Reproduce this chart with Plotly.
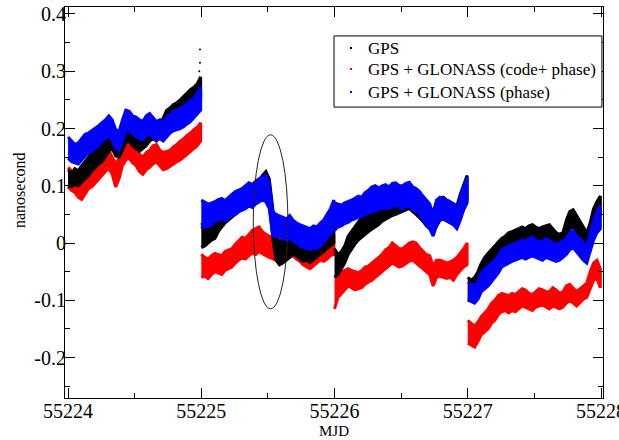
import plotly.graph_objects as go

# ---- sample grid: 4 daily segments, 40 samples per day ----
day_starts = [55224, 55225, 55226, 55227]
samples_per_day = 40
day_span = 0.995

# ---- GPS (black): lower / upper envelope of the scatter band ----
gps_lo = [
    0.100,0.098,0.102,0.100,0.106,0.112,0.118,0.126,0.132,0.138,0.142,0.150,0.160,0.165,0.152,0.150,0.162,0.176,0.178,0.170,
    0.165,0.160,0.165,0.170,0.178,0.182,0.178,0.185,0.195,0.200,0.205,0.212,0.215,0.220,0.225,0.232,0.238,0.240,0.245,0.250,
    -0.008,-0.005,0.000,0.005,0.008,0.020,0.028,0.035,0.040,0.045,0.050,0.055,0.058,0.062,0.065,0.070,0.072,0.075,0.080,0.082,
    0.070,0.010,-0.030,-0.038,-0.035,-0.030,-0.025,-0.020,-0.022,-0.028,-0.032,-0.030,-0.034,-0.030,-0.025,-0.020,-0.015,-0.010,-0.005,0.000,
    -0.060,-0.055,-0.045,-0.035,-0.020,-0.010,-0.002,0.005,0.010,0.015,0.020,0.025,0.028,0.032,0.038,0.042,0.045,0.048,0.050,0.052,
    0.055,0.058,0.060,0.055,0.050,0.045,0.038,0.030,0.025,0.018,0.030,0.040,0.042,0.038,0.035,0.032,0.030,0.045,0.060,0.075,
    -0.098,-0.100,-0.095,-0.088,-0.075,-0.065,-0.058,-0.050,-0.040,-0.032,-0.025,-0.020,-0.015,-0.012,-0.010,-0.008,-0.005,-0.008,-0.005,-0.002,
    -0.005,-0.008,-0.005,-0.002,0.000,-0.005,-0.010,-0.012,-0.008,0.010,0.025,0.028,0.020,0.010,0.000,-0.008,0.005,0.025,0.040,0.050,
]
gps_hi = [
    0.128,0.122,0.130,0.126,0.135,0.142,0.150,0.158,0.166,0.170,0.176,0.184,0.192,0.200,0.182,0.178,0.195,0.212,0.210,0.198,
    0.192,0.188,0.190,0.198,0.205,0.210,0.205,0.212,0.218,0.232,0.236,0.242,0.245,0.250,0.256,0.262,0.268,0.272,0.278,0.290,
    0.035,0.030,0.038,0.040,0.045,0.055,0.062,0.068,0.075,0.078,0.082,0.088,0.092,0.095,0.098,0.102,0.105,0.110,0.118,0.125,
    0.112,0.060,0.010,0.002,0.005,0.008,0.012,0.015,0.012,0.008,0.005,0.005,0.002,0.006,0.010,0.015,0.020,0.025,0.030,0.040,
    -0.010,-0.020,-0.015,-0.005,0.012,0.020,0.028,0.035,0.045,0.050,0.055,0.060,0.065,0.068,0.072,0.078,0.080,0.082,0.085,0.088,
    0.090,0.095,0.098,0.092,0.088,0.080,0.072,0.068,0.062,0.055,0.070,0.078,0.080,0.075,0.072,0.068,0.065,0.085,0.100,0.118,
    -0.060,-0.065,-0.060,-0.050,-0.035,-0.025,-0.018,-0.012,-0.005,0.002,0.008,0.012,0.018,0.020,0.022,0.025,0.028,0.025,0.030,0.032,
    0.028,0.025,0.028,0.030,0.032,0.025,0.018,0.015,0.018,0.040,0.055,0.058,0.048,0.038,0.028,0.018,0.035,0.060,0.072,0.082,
]
gps_out_x = [55224.99, 55224.99, 55224.985]
gps_out_y = [0.338, 0.315, 0.300]

# ---- GPS + GLONASS (code+ phase) (red) ----
cp_lo = [
    0.098,0.092,0.088,0.080,0.076,0.085,0.095,0.098,0.105,0.112,0.118,0.125,0.130,0.120,0.098,0.112,0.135,0.145,0.148,0.140,
    0.135,0.125,0.120,0.128,0.132,0.138,0.142,0.135,0.128,0.130,0.133,0.138,0.142,0.145,0.150,0.156,0.160,0.165,0.170,0.178,
    -0.060,-0.058,-0.062,-0.055,-0.050,-0.052,-0.055,-0.048,-0.045,-0.042,-0.035,-0.030,-0.025,-0.028,-0.022,-0.018,-0.020,-0.015,-0.018,-0.022,
    -0.025,-0.028,-0.030,-0.025,-0.028,-0.030,-0.025,-0.022,-0.028,-0.032,-0.038,-0.042,-0.045,-0.040,-0.035,-0.030,-0.032,-0.028,-0.022,-0.020,
    -0.115,-0.095,-0.088,-0.082,-0.075,-0.078,-0.082,-0.080,-0.078,-0.072,-0.068,-0.065,-0.060,-0.055,-0.050,-0.045,-0.040,-0.035,-0.038,-0.042,
    -0.040,-0.036,-0.032,-0.030,-0.035,-0.040,-0.045,-0.050,-0.055,-0.075,-0.060,-0.058,-0.060,-0.062,-0.060,-0.065,-0.055,-0.048,-0.042,-0.038,
    -0.175,-0.178,-0.182,-0.172,-0.160,-0.155,-0.150,-0.140,-0.135,-0.125,-0.120,-0.118,-0.122,-0.118,-0.120,-0.115,-0.110,-0.112,-0.115,-0.118,
    -0.112,-0.110,-0.108,-0.112,-0.115,-0.110,-0.112,-0.115,-0.112,-0.105,-0.100,-0.105,-0.110,-0.105,-0.098,-0.095,-0.080,-0.065,-0.062,-0.078,
]
cp_hi = [
    0.132,0.125,0.120,0.115,0.110,0.118,0.122,0.128,0.135,0.145,0.150,0.158,0.162,0.150,0.138,0.148,0.168,0.178,0.182,0.172,
    0.165,0.155,0.150,0.158,0.162,0.170,0.172,0.162,0.158,0.160,0.162,0.168,0.172,0.178,0.182,0.188,0.192,0.198,0.202,0.210,
    -0.020,-0.025,-0.028,-0.022,-0.018,-0.020,-0.022,-0.015,-0.012,-0.010,-0.002,0.005,0.010,0.008,0.015,0.022,0.025,0.028,0.020,0.015,
    0.012,0.010,0.008,0.012,0.010,0.006,0.012,0.015,0.010,0.005,0.000,-0.005,-0.008,-0.005,0.000,0.002,0.005,0.008,0.012,0.015,
    -0.060,-0.055,-0.050,-0.048,-0.045,-0.048,-0.050,-0.052,-0.048,-0.042,-0.040,-0.035,-0.030,-0.025,-0.020,-0.012,-0.008,0.000,-0.005,-0.010,
    -0.010,-0.005,0.000,0.002,0.000,-0.008,-0.015,-0.020,-0.022,-0.040,-0.030,-0.030,-0.032,-0.035,-0.033,-0.030,-0.025,-0.018,-0.010,0.000,
    -0.135,-0.140,-0.145,-0.138,-0.128,-0.122,-0.115,-0.105,-0.100,-0.092,-0.088,-0.090,-0.092,-0.088,-0.090,-0.085,-0.080,-0.082,-0.088,-0.090,
    -0.085,-0.080,-0.082,-0.085,-0.085,-0.078,-0.082,-0.088,-0.085,-0.075,-0.072,-0.078,-0.085,-0.080,-0.075,-0.070,-0.050,-0.035,-0.030,-0.045,
]

# ---- GPS + GLONASS (phase) (blue) ----
ph_lo = [
    0.148,0.142,0.140,0.138,0.145,0.152,0.158,0.160,0.165,0.170,0.178,0.182,0.186,0.180,0.165,0.162,0.178,0.195,0.198,0.190,
    0.186,0.182,0.180,0.188,0.192,0.185,0.180,0.182,0.178,0.185,0.192,0.196,0.198,0.200,0.203,0.208,0.212,0.218,0.225,0.232,
    0.025,0.030,0.028,0.032,0.038,0.040,0.042,0.038,0.045,0.048,0.050,0.055,0.058,0.060,0.065,0.062,0.068,0.072,0.075,0.072,
    0.060,0.015,0.010,0.012,0.008,0.005,0.008,0.004,0.000,-0.005,-0.008,-0.010,-0.012,-0.008,-0.010,-0.005,0.000,0.008,0.015,0.025,
    0.022,0.028,0.030,0.034,0.036,0.040,0.042,0.045,0.046,0.050,0.052,0.055,0.056,0.058,0.060,0.062,0.060,0.064,0.066,0.062,
    0.060,0.064,0.066,0.058,0.055,0.050,0.042,0.032,0.025,0.012,0.030,0.040,0.042,0.038,0.035,0.032,0.025,0.040,0.058,0.070,
    -0.100,-0.102,-0.105,-0.098,-0.085,-0.080,-0.075,-0.068,-0.060,-0.052,-0.042,-0.038,-0.035,-0.032,-0.030,-0.028,-0.025,-0.028,-0.025,-0.022,
    -0.025,-0.028,-0.030,-0.025,-0.028,-0.030,-0.032,-0.030,-0.025,-0.020,-0.012,-0.008,-0.015,-0.022,-0.030,-0.035,-0.015,0.005,0.018,0.025,
]
ph_hi = [
    0.185,0.178,0.172,0.175,0.182,0.190,0.192,0.196,0.200,0.205,0.210,0.215,0.222,0.215,0.198,0.195,0.215,0.232,0.230,0.222,
    0.220,0.215,0.212,0.222,0.226,0.218,0.212,0.215,0.210,0.220,0.225,0.230,0.232,0.236,0.238,0.245,0.250,0.252,0.262,0.272,
    0.075,0.072,0.068,0.070,0.072,0.076,0.078,0.074,0.080,0.085,0.090,0.092,0.095,0.100,0.105,0.102,0.108,0.112,0.115,0.118,
    0.105,0.055,0.050,0.048,0.045,0.042,0.048,0.040,0.035,0.032,0.030,0.028,0.025,0.030,0.028,0.035,0.040,0.050,0.060,0.075,
    0.070,0.068,0.066,0.070,0.072,0.075,0.078,0.082,0.080,0.088,0.092,0.098,0.100,0.096,0.100,0.102,0.098,0.104,0.105,0.100,
    0.100,0.104,0.106,0.098,0.095,0.090,0.082,0.075,0.068,0.050,0.075,0.080,0.078,0.075,0.072,0.068,0.058,0.082,0.098,0.115,
    -0.068,-0.072,-0.075,-0.068,-0.052,-0.045,-0.040,-0.035,-0.030,-0.022,-0.012,-0.008,-0.005,-0.002,0.000,0.002,0.005,0.002,0.008,0.010,
    0.005,0.002,0.003,0.008,0.004,0.000,-0.002,0.000,0.003,0.008,0.018,0.022,0.012,0.008,0.000,-0.005,0.020,0.040,0.055,0.065,
]

series_names = ["GPS", "GPS + GLONASS (code+ phase)", "GPS + GLONASS (phase)"]
series_colors = ["#000000", "#ff0000", "#0000ff"]
x_tick_vals = [55224, 55225, 55226, 55227, 55228]
y_tick_vals = [-0.2, -0.1, 0, 0.1, 0.2, 0.3, 0.4]
y_tick_text = ["-0.2", "-0.1", "0", "0.1", "0.2", "0.3", "0.4"]

# ellipse marking the GPS jump (data coordinates)
ellipse_x = [55225.39, 55225.65]
ellipse_y = [-0.115, 0.189]


def band_polygons(lo, hi):
    """One closed polygon per day: upper envelope forward, lower envelope back."""
    xs, ys = [], []
    n = samples_per_day
    for k, d in enumerate(day_starts):
        t = [d + i * day_span / (n - 1) for i in range(n)]
        h = hi[k * n:(k + 1) * n]
        l = lo[k * n:(k + 1) * n]
        xs += t + t[::-1] + [None]
        ys += h + l[::-1] + [None]
    return xs, ys


SERIF = "Liberation Serif"
fig = go.Figure()
draw = [  # drawing order: red, black, blue
    (cp_lo, cp_hi, series_colors[1]),
    (gps_lo, gps_hi, series_colors[0]),
    (ph_lo, ph_hi, series_colors[2]),
]
for lo, hi, col in draw:
    xs, ys = band_polygons(lo, hi)
    fig.add_trace(go.Scatter(x=xs, y=ys, mode="lines", fill="toself", fillcolor=col,
                             line=dict(color=col, width=3), showlegend=False,
                             hoverinfo="skip"))
fig.add_trace(go.Scatter(x=gps_out_x, y=gps_out_y, mode="markers",
                         marker=dict(color="black", size=2), showlegend=False))

fig.add_shape(type="circle", xref="x", yref="y",
              x0=ellipse_x[0], x1=ellipse_x[1], y0=ellipse_y[0], y1=ellipse_y[1],
              line=dict(color="#222222", width=1))

# ---- legend box (drawn in paper coordinates) ----
fig.add_shape(type="rect", xref="paper", yref="paper", x0=0.5, x1=0.998, y0=0.744, y1=0.926,
              line=dict(color="black", width=1), fillcolor="white", layer="above")
legend_rows = [0.8951, 0.8414, 0.7826]
for name, col, yy in zip(series_names, series_colors, legend_rows):
    fig.add_shape(type="rect", xref="paper", yref="paper", x0=0.5297, x1=0.5335,
                  y0=yy - 0.0026, y1=yy + 0.0026, line=dict(width=0), fillcolor=col, layer="above")
    fig.add_annotation(x=0.5595, y=yy, xref="paper", yref="paper", text=name, showarrow=False,
                       xanchor="left", yanchor="middle",
                       font=dict(family=SERIF, size=17, color="black"))

# axis titles
fig.add_annotation(x=0.5, y=-0.0844, xref="paper", yref="paper", text="MJD", showarrow=False,
                   xanchor="center", yanchor="middle", font=dict(family=SERIF, size=15, color="black"))
fig.add_annotation(x=-0.0836, y=0.532, xref="paper", yref="paper", text="nanosecond",
                   showarrow=False, textangle=-90, xanchor="center", yanchor="middle",
                   font=dict(family=SERIF, size=16, color="black"))

axis_common = dict(showline=True, linecolor="black", linewidth=1, mirror="ticks",
                   ticks="inside", ticklen=10, tickcolor="black", showgrid=False,
                   zeroline=False, ticklabeloverflow="allow",
                   tickfont=dict(family=SERIF, size=20, color="black"))

fig.update_xaxes(range=[55223.977, 55228.015], tickvals=x_tick_vals,
                 ticktext=[str(v) for v in x_tick_vals], ticklabelstandoff=-5,
                 minor=dict(dtick=0.5, tick0=55224, ticks="inside", ticklen=5, tickcolor="black"),
                 **axis_common)
fig.update_yaxes(range=[-0.2707, 0.4122], tickvals=y_tick_vals, ticktext=y_tick_text,
                 ticklabelstandoff=-6,
                 minor=dict(dtick=0.05, tick0=0, ticks="inside", ticklen=5, tickcolor="black"),
                 **axis_common)

fig.update_layout(
    width=619, height=440,
    margin=dict(l=65, r=16, t=7, b=42, autoexpand=False),
    paper_bgcolor="white", plot_bgcolor="white",
    font=dict(family=SERIF, color="black"),
    showlegend=False,
)

fig.write_html("out.html", config={"displayModeBar": False},
               post_script="document.body.style.margin='0px';")
